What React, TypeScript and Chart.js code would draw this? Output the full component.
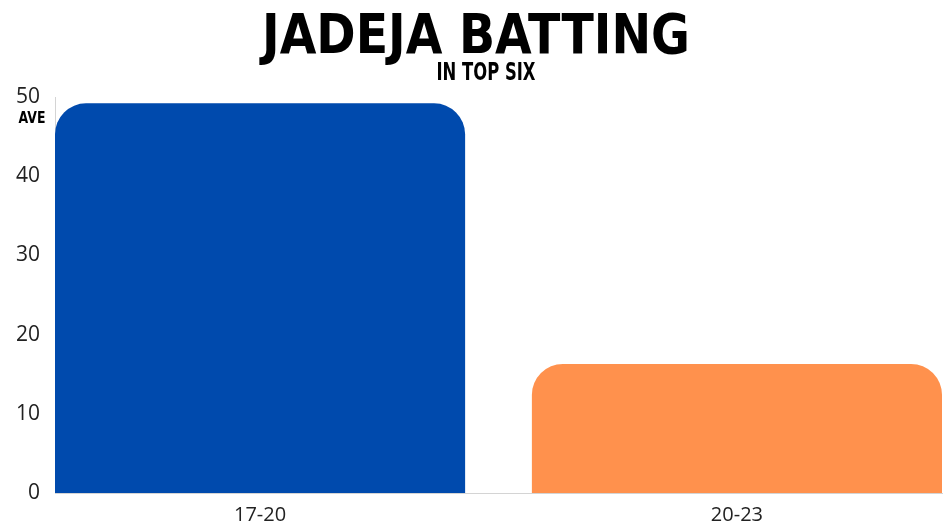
import React, { useEffect, useRef } from "react";
import { Chart, registerables } from "chart.js";

Chart.register(...registerables);

const categories = ["17-20", "20-23"];
const averages = [49.2, 16.3];
const barColors = ["#004AAD", "#FF914D"];
const yTicks = [0, 10, 20, 30, 40, 50];
const titleText = "JADEJA BATTING";
const subtitleText = "IN TOP SIX";
const yAxisTitle = "AVE";

function drawFitted(ctx: CanvasRenderingContext2D, text: string, font: string, cx: number, baseline: number, width: number) {
  ctx.save();
  ctx.font = font;
  const w = ctx.measureText(text).width;
  const sx = width / w;
  ctx.translate(cx, baseline);
  ctx.scale(sx, 1);
  ctx.textAlign = "center";
  ctx.textBaseline = "alphabetic";
  ctx.fillStyle = "#000";
  ctx.fillText(text, 0, 0);
  ctx.restore();
}

const titlePlugin = {
  id: "customTitles",
  afterDraw(chart: any) {
    const ctx = chart.ctx as CanvasRenderingContext2D;
    drawFitted(ctx, titleText, "bold 56px 'DejaVu Sans'", 476, 53, 428);
    drawFitted(ctx, subtitleText, "bold 25px 'DejaVu Sans'", 486, 80, 99);
    drawFitted(ctx, yAxisTitle, "bold 15px 'DejaVu Sans'", 32, 123, 27);
  },
};

export default function App() {
  const ref = useRef<HTMLCanvasElement>(null);
  useEffect(() => {
    if (!ref.current) return;
    const chart = new Chart(ref.current, {
      type: "bar",
      data: {
        datasets: [
          {
            data: averages.map((v, i) => ({ x: i, y: v })),
            backgroundColor: barColors,
            borderRadius: { topLeft: 31, topRight: 31, bottomLeft: 0, bottomRight: 0 },
            borderSkipped: false,
            barPercentage: 0.86,
            categoryPercentage: 1,
          },
        ],
      },
      options: {
        animation: false,
        responsive: true,
        maintainAspectRatio: false,
        layout: { padding: { top: 97, right: 4, left: 0, bottom: 0 } },
        plugins: { legend: { display: false }, tooltip: { enabled: false }, title: { display: false } },
        scales: {
          x: {
            type: "linear",
            offset: false,
            min: -0.43,
            max: 1.43,
            grid: { display: false, drawTicks: false, offset: false },
            border: { display: true, color: "#d4d4d4", width: 1 },
            afterBuildTicks: (scale: any) => {
              scale.ticks = categories.map((_, i) => ({ value: i }));
            },
            afterFit: (scale: any) => {
              scale.height = 37;
            },
            ticks: {
              callback: (v: any) => categories[v as number] ?? "",
              color: "#222222",
              font: { family: "'Open Sans'", size: 20, weight: "400" },
              padding: 10,
              maxRotation: 0,
            },
          },
          y: {
            min: 0,
            max: 50,
            grid: { display: false, drawTicks: false },
            border: { display: true, color: "#d4d4d4", width: 1 },
            afterBuildTicks: (scale: any) => {
              scale.ticks = yTicks.map((v) => ({ value: v }));
            },
            afterFit: (scale: any) => {
              scale.width = 55;
            },
            ticks: {
              color: "#222222",
              font: { family: "'Open Sans'", size: 21, weight: "400" },
              padding: 15,
            },
          },
        },
      },
      plugins: [titlePlugin],
    });
    return () => chart.destroy();
  }, []);
  return (
    <div style={{ position: "fixed", left: 0, top: 0, width: 946, height: 530, background: "#fff" }}>
      <canvas ref={ref} />
    </div>
  );
}
